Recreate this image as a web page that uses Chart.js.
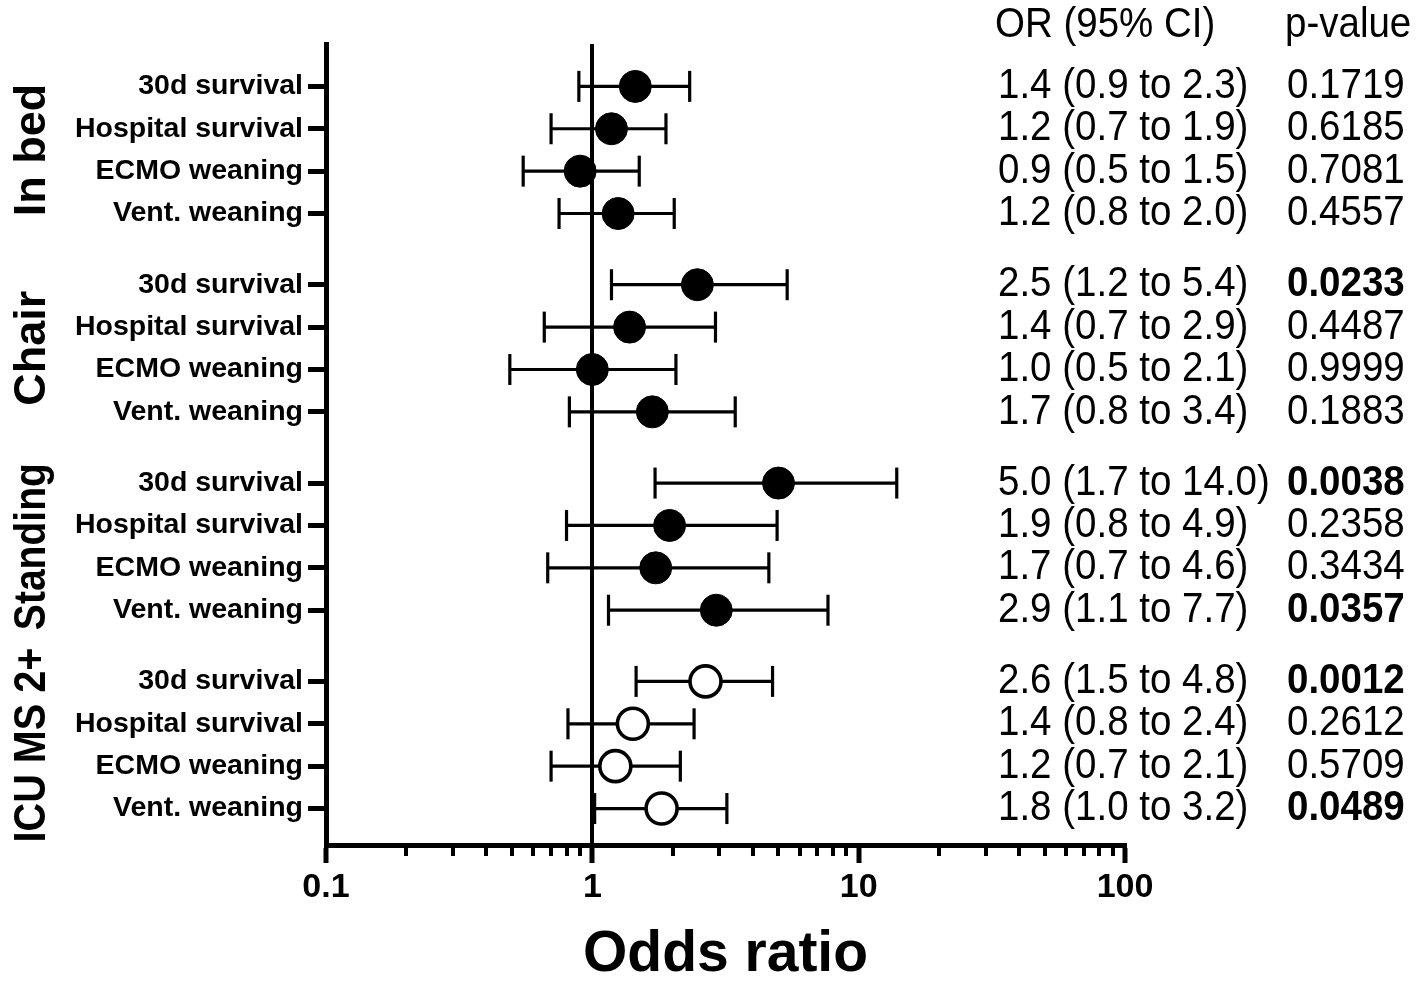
<!DOCTYPE html>
<html>
<head>
<meta charset="utf-8">
<script src="https://cdn.jsdelivr.net/npm/chart.js@4.4.0/dist/chart.umd.min.js"></script>
<style>
html,body{margin:0;padding:0;background:#fff;}
canvas{display:block;}
</style>
</head>
<body>
<canvas id="c" width="1418" height="985"></canvas>
<script>
// ---------- DATA ----------
const groups = ['In bed', 'Chair', 'Standing', 'ICU MS 2+'];
const outcomes = ['30d survival', 'Hospital survival', 'ECMO weaning', 'Vent. weaning'];
const oddsRatio = [1.45, 1.18, 0.90, 1.25,   2.48, 1.38, 1.00, 1.68,   5.00, 1.95, 1.73, 2.92,   2.66, 1.42, 1.22, 1.82];
const ciLow     = [0.89, 0.70, 0.55, 0.75,   1.18, 0.66, 0.49, 0.82,   1.72, 0.80, 0.68, 1.15,   1.46, 0.81, 0.70, 1.02];
const ciHigh    = [2.32, 1.89, 1.50, 2.03,   5.39, 2.90, 2.06, 3.44,  13.90, 4.94, 4.60, 7.67,   4.75, 2.41, 2.14, 3.20];
const ciLabels  = ['1.4 (0.9 to 2.3)', '1.2 (0.7 to 1.9)', '0.9 (0.5 to 1.5)', '1.2 (0.8 to 2.0)',
                   '2.5 (1.2 to 5.4)', '1.4 (0.7 to 2.9)', '1.0 (0.5 to 2.1)', '1.7 (0.8 to 3.4)',
                   '5.0 (1.7 to 14.0)', '1.9 (0.8 to 4.9)', '1.7 (0.7 to 4.6)', '2.9 (1.1 to 7.7)',
                   '2.6 (1.5 to 4.8)', '1.4 (0.8 to 2.4)', '1.2 (0.7 to 2.1)', '1.8 (1.0 to 3.2)'];
const pValues   = [0.1719, 0.6185, 0.7081, 0.4557,   0.0233, 0.4487, 0.9999, 0.1883,
                   0.0038, 0.2358, 0.3434, 0.0357,   0.0012, 0.2612, 0.5709, 0.0489];
const openMarkerGroups = ['ICU MS 2+'];
const xTickValues = [0.1, 1, 10, 100];
const columnHeaders = ['OR (95% CI)', 'p-value'];
const xTitle = 'Odds ratio';

// ---------- LAYOUT / STYLE ----------
const GROUP_STEP = 4.68;
const FONT = '"Liberation Sans", Arial, Helvetica, sans-serif';
const groupLabelMaxWidth = [null, null, 167, 195];

const rows = [];
groups.forEach((g, gi) => outcomes.forEach((o, oi) => {
  rows.push({ i: gi * outcomes.length + oi, group: g, label: o, pos: gi * GROUP_STEP + oi });
}));
const rowPos = rows.map(r => r.pos);
const rowLabels = rows.map(r => r.label);

const whiskerSets = rows.map(r => ({
  label: 'ci-' + r.i,
  data: [{ x: ciLow[r.i], y: r.pos }, { x: ciHigh[r.i], y: r.pos }],
  showLine: true,
  borderColor: '#000',
  borderWidth: 3.2,
  pointStyle: 'line',
  pointRotation: 90,
  pointRadius: 15.5,
  pointHoverRadius: 15.5,
  pointBorderWidth: 3.2,
  pointBorderColor: '#000',
  pointBackgroundColor: '#000',
  order: 2,
  clip: false
}));

const filledRows = rows.filter(r => !openMarkerGroups.includes(r.group));
const openRows = rows.filter(r => openMarkerGroups.includes(r.group));

const filledSet = {
  label: 'OR',
  data: filledRows.map(r => ({ x: oddsRatio[r.i], y: r.pos })),
  showLine: false,
  pointStyle: 'circle',
  pointRadius: 16,
  pointHoverRadius: 16,
  pointBackgroundColor: '#000',
  pointBorderColor: '#000',
  pointBorderWidth: 1,
  order: 0,
  clip: false
};
const openSet = {
  label: 'OR open',
  data: openRows.map(r => ({ x: oddsRatio[r.i], y: r.pos })),
  showLine: false,
  pointStyle: 'circle',
  pointRadius: 15.5,
  pointHoverRadius: 15.5,
  pointBackgroundColor: '#fff',
  pointBorderColor: '#000',
  pointBorderWidth: 3.6,
  order: 0,
  clip: false
};

const decorPlugin = {
  id: 'decor',
  afterDraw(chart) {
    const ctx = chart.ctx;
    const xs = chart.scales.x, ys = chart.scales.y;
    ctx.save();
    // minor ticks on log axis
    ctx.strokeStyle = '#000';
    ctx.lineWidth = 4;
    for (let d = 0; d < xTickValues.length - 1; d++) {
      for (let k = 2; k <= 9; k++) {
        const px = Math.round(xs.getPixelForValue(xTickValues[d] * k));
        ctx.beginPath();
        ctx.moveTo(px, xs.top);
        ctx.lineTo(px, xs.top + 11);
        ctx.stroke();
      }
    }
    // group labels (rotated)
    ctx.fillStyle = '#000';
    ctx.font = 'bold 45px ' + FONT;
    ctx.textAlign = 'center';
    ctx.textBaseline = 'alphabetic';
    groups.forEach((g, gi) => {
      const yc = ys.getPixelForValue(gi * GROUP_STEP + (outcomes.length - 1) / 2);
      ctx.save();
      ctx.translate(45, yc);
      ctx.rotate(-Math.PI / 2);
      if (groupLabelMaxWidth[gi]) ctx.fillText(g, 0, 0, groupLabelMaxWidth[gi]);
      else ctx.fillText(g, 0, 0);
      ctx.restore();
    });
    // text columns
    const drawText = (txt, x, y, font) => {
      ctx.save();
      ctx.font = font;
      ctx.textAlign = 'left';
      ctx.textBaseline = 'middle';
      ctx.translate(x, y);
      ctx.scale(1, 1.1);
      ctx.fillText(txt, 0, 0);
      ctx.restore();
    };
    const headY = ys.getPixelForValue(-1.45);
    drawText(columnHeaders[0], 995, headY, '38.5px ' + FONT);
    drawText(columnHeaders[1], 1285, headY, '38.5px ' + FONT);
    rows.forEach(r => {
      const y = ys.getPixelForValue(r.pos);
      drawText(ciLabels[r.i], 998, y, '38.5px ' + FONT);
      const sig = pValues[r.i] < 0.05;
      drawText(pValues[r.i].toFixed(4), 1287, y, (sig ? 'bold ' : '') + '38.5px ' + FONT);
    });
    ctx.restore();
  }
};

new Chart(document.getElementById('c'), {
  type: 'scatter',
  data: { datasets: [filledSet, openSet, ...whiskerSets] },
  plugins: [decorPlugin],
  options: {
    responsive: false,
    animation: false,
    devicePixelRatio: 1,
    events: [],
    layout: { padding: { top: 44, right: 293, bottom: 0, left: 0 } },
    plugins: { legend: { display: false }, tooltip: { enabled: false } },
    scales: {
      x: {
        type: 'logarithmic',
        min: 0.1,
        max: 100,
        afterBuildTicks: s => { s.ticks = xTickValues.map(v => ({ value: v, major: true })); },
        afterFit: s => { s.height = 140; },
        ticks: {
          autoSkip: false,
          maxRotation: 0,
          color: '#000',
          padding: 4,
          font: { family: FONT, size: 34, weight: 'bold' },
          callback: v => String(v)
        },
        grid: {
          drawOnChartArea: true,
          color: c => (c.tick && c.tick.value === 1) ? '#000' : 'rgba(0,0,0,0)',
          lineWidth: 4,
          tickColor: '#000',
          tickWidth: 5,
          tickLength: 18
        },
        border: { display: true, color: '#000', width: 5 },
        title: {
          display: true,
          text: xTitle,
          color: '#000',
          font: { family: FONT, size: 57, weight: 'bold', lineHeight: 1.05 },
          padding: { top: 0, bottom: 0 }
        }
      },
      y: {
        type: 'linear',
        reverse: true,
        min: -1,
        max: 17.9,
        afterBuildTicks: s => { s.ticks = rowPos.map(v => ({ value: v })); },
        afterFit: s => { s.width = 326; },
        ticks: {
          autoSkip: false,
          color: '#000',
          padding: 5,
          font: { family: FONT, size: 28.5, weight: 'bold' },
          callback: (v, idx) => rowLabels[idx]
        },
        grid: {
          drawOnChartArea: false,
          tickColor: '#000',
          tickWidth: 5,
          tickLength: 18
        },
        border: { display: true, color: '#000', width: 5 }
      }
    }
  }
});
</script>
</body>
</html>
